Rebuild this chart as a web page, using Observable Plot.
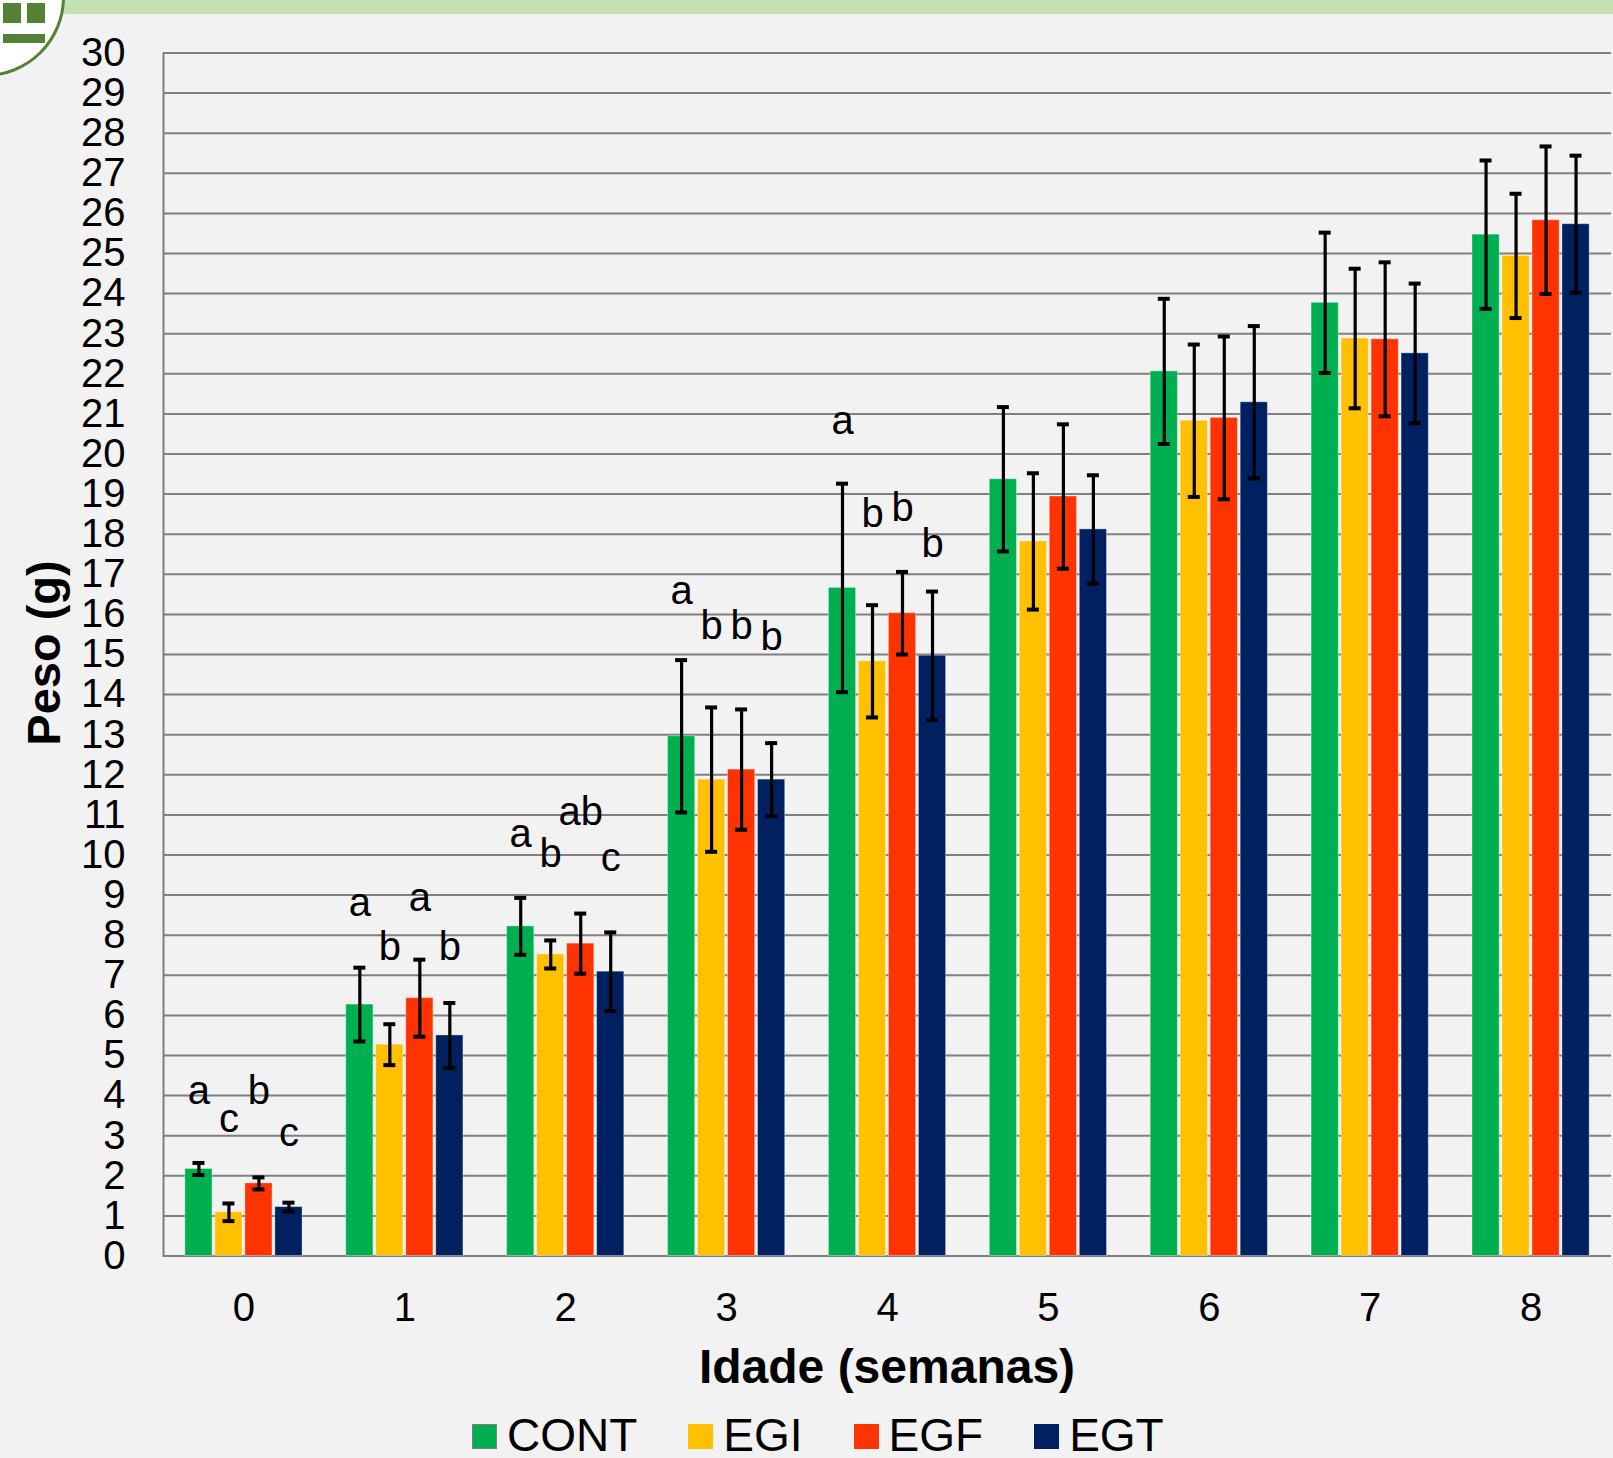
<!DOCTYPE html>
<html>
<head>
<meta charset="utf-8">
<script src="https://cdn.jsdelivr.net/npm/d3@7"></script>
<script src="https://cdn.jsdelivr.net/npm/@observablehq/plot@0.6"></script>
<style>
  html, body { margin: 0; padding: 0; }
  body { background: #f2f2f2; width: 1613px; height: 1458px; position: relative; overflow: hidden;
         font-family: "Liberation Sans", Arial, sans-serif; color: #000; }
  #chart { position: absolute; left: 0; top: 0; }
  #band { position: absolute; left: 0; top: 0; width: 1613px; height: 14px; background: #c5e0b4; }
  #logo { position: absolute; left: -95px; top: -83px; width: 154px; height: 154px; border-radius: 50%;
          background: #fff; border: 3px solid #548235; overflow: hidden; }
  .lg { position: absolute; background: #548235; }
  #ylab { position: absolute; left: 44px; top: 653px; transform: translate(-50%, -50%) rotate(-90deg);
          font-weight: bold; font-size: 47px; line-height: 54px; white-space: nowrap; }
  #xlab { position: absolute; left: 887px; top: 1343px; transform: translateX(-50%);
          font-weight: bold; font-size: 48px; line-height: 48px; white-space: nowrap; }
  #legend { position: absolute; left: 472px; top: 1412px; display: flex; gap: 51px;
            font-size: 46px; line-height: 46px; white-space: nowrap; }
  .item { display: flex; align-items: flex-start; }
  .sw { width: 25px; height: 25px; margin-top: 12px; margin-right: 10px; box-sizing: border-box; }
</style>
</head>
<body>
<div id="chart"></div>
<div id="band"></div>
<div id="logo">
  <div class="lg" style="left:95px;top:83px;width:18px;height:20px"></div>
  <div class="lg" style="left:119px;top:83px;width:18px;height:20px"></div>
  <div class="lg" style="left:95px;top:114px;width:42px;height:9px"></div>
</div>
<div id="ylab">Peso (g)</div>
<div id="xlab">Idade (semanas)</div>
<div id="legend"></div>
<script>
// ---- data ----
const weeks = [0, 1, 2, 3, 4, 5, 6, 7, 8];
const groups = ["CONT", "EGI", "EGF", "EGT"];
const colors = ["#00b050", "#ffc000", "#ff3300", "#002060"];
const yTicks = d3.range(0, 31);

const CONT = [2.17, 6.27, 8.22, 12.96, 16.66, 19.37, 22.06, 23.77, 25.47];
const EGI  = [1.09, 5.27, 7.52, 11.88, 14.83, 17.82, 20.83, 22.88, 24.94];
const EGF  = [1.81, 6.43, 7.79, 12.13, 16.03, 18.94, 20.90, 22.86, 25.83];
const EGT  = [1.22, 5.50, 7.09, 11.88, 14.97, 18.12, 21.29, 22.51, 25.73];

const CONT_sd = [0.15, 0.92, 0.71, 1.90, 2.60, 1.80, 1.81, 1.75, 1.85];
const EGI_sd  = [0.22, 0.51, 0.35, 1.80, 1.40, 1.70, 1.90, 1.74, 1.55];
const EGF_sd  = [0.15, 0.96, 0.75, 1.50, 1.03, 1.80, 2.03, 1.92, 1.84];
const EGT_sd  = [0.11, 0.81, 0.98, 0.91, 1.60, 1.35, 1.90, 1.74, 1.71];

// significance letters (week, group, letter, height in g)
const letterWeek  = [0, 0, 0, 0, 1, 1, 1, 1, 2, 2, 2, 2, 3, 3, 3, 3, 4, 4, 4, 4];
const letterGroup = ["CONT","EGI","EGF","EGT","CONT","EGI","EGF","EGT","CONT","EGI","EGF","EGT",
                     "CONT","EGI","EGF","EGT","CONT","EGI","EGF","EGT"];
const letterText  = ["a","c","b","c","a","b","a","b","a","b","ab","c","a","b","b","b","a","b","b","b"];
const letterY     = [3.80, 3.08, 3.80, 2.75, 8.47, 7.37, 8.60, 7.37, 10.19, 9.69, 10.74, 9.61,
                     16.26, 15.39, 15.39, 15.10, 20.50, 18.17, 18.32, 17.44];

// ---- build tables ----
const series = {CONT, EGI, EGF, EGT};
const sds = {CONT: CONT_sd, EGI: EGI_sd, EGF: EGF_sd, EGT: EGT_sd};
const rows = groups.flatMap(g => weeks.map((w, i) => ({
  week: w, group: g, value: series[g][i], lo: series[g][i] - sds[g][i], hi: series[g][i] + sds[g][i]
})));
const letters = letterText.map((t, i) => ({week: letterWeek[i], group: letterGroup[i], text: t, y: letterY[i]}));

const W = 1613, H = 1400, mL = 163, mR = 2, mT = 52.5, mB = H - 1255.5;
const band = (W - mL - mR) / weeks.length;
const step = 30, barW = 27.2, capW = 12;

const marks = [
  Plot.ruleY(yTicks, {stroke: "#7f7f7f", strokeWidth: 2})
];
try { marks.push(Plot.frame({anchor: "left", stroke: "#7f7f7f", strokeWidth: 2})); } catch (e) {}

groups.forEach((g, gi) => {
  const dx = (gi - 1.5) * step;
  const data = rows.filter(d => d.group === g);
  const inset = (band - barW) / 2;
  const capInset = (band - capW) / 2;
  marks.push(
    Plot.barY(data, {x: "week", y: "value", fill: colors[gi], dx, insetLeft: inset, insetRight: inset,
                     stroke: "#ffffff", strokeOpacity: 0.35, strokeWidth: 1}),
    Plot.ruleX(data, {x: "week", y1: "lo", y2: "hi", dx, stroke: "#000", strokeWidth: 3.2}),
    Plot.tickY(data, {x: "week", y: "hi", dx, insetLeft: capInset, insetRight: capInset, stroke: "#000", strokeWidth: 4}),
    Plot.tickY(data, {x: "week", y: "lo", dx, insetLeft: capInset, insetRight: capInset, stroke: "#000", strokeWidth: 4}),
    Plot.text(letters.filter(d => d.group === g), {x: "week", y: "y", text: "text", dx, lineAnchor: "bottom",
                     fontSize: 40, fill: "#000"})
  );
});

marks.push(
  Plot.axisY({ticks: yTicks, tickSize: 0, tickPadding: 38, fontSize: 40, label: null, fill: "#000"}),
  Plot.axisX({tickSize: 0, tickPadding: 37, fontSize: 40, label: null, fill: "#000"})
);

const chart = Plot.plot({
  width: W, height: H,
  marginLeft: mL, marginRight: mR, marginTop: mT, marginBottom: mB,
  x: {domain: weeks, paddingInner: 0, paddingOuter: 0, round: false, label: null},
  y: {domain: [0, 30], label: null},
  style: {background: "transparent", fontFamily: "'Liberation Sans', Arial, sans-serif", color: "#000", overflow: "visible"},
  marks
});
document.getElementById("chart").appendChild(chart);

// legend
const lg = document.getElementById("legend");
groups.forEach((g, i) => {
  const it = document.createElement("div");
  it.className = "item";
  const sw = document.createElement("div");
  sw.className = "sw";
  sw.style.background = colors[i];
  if (i === 0) sw.style.border = "1px solid #7f7f7f";
  const tx = document.createElement("span");
  tx.textContent = g;
  it.appendChild(sw); it.appendChild(tx);
  lg.appendChild(it);
});
</script>
</body>
</html>
